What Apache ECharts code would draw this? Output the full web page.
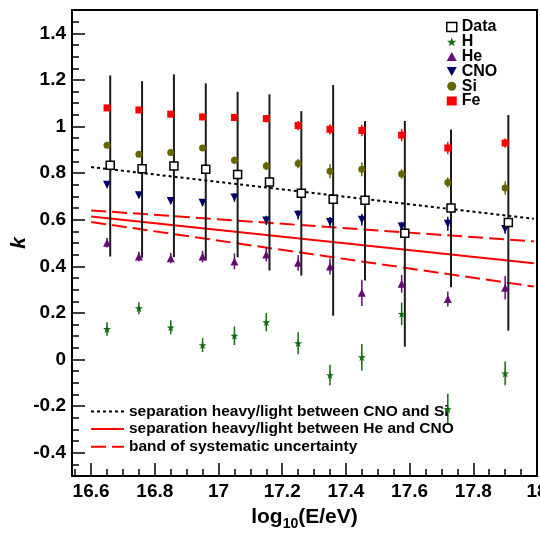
<!DOCTYPE html>
<html>
<head>
<meta charset="utf-8">
<script src="https://cdn.jsdelivr.net/npm/echarts@6/dist/echarts.min.js"></script>
<style>
html,body{margin:0;padding:0;background:#fff;}
#chart{width:540px;height:534px;}
</style>
</head>
<body>
<div id="chart"></div>
<script>
// ---- data ----
const dataX  = [16.66, 16.76, 16.86, 16.96, 17.06, 17.16, 17.26, 17.36, 17.46, 17.585, 17.73, 17.91];
const dataK  = [0.834, 0.819, 0.831, 0.816, 0.794, 0.762, 0.713, 0.688, 0.683, 0.542, 0.650, 0.588];
const dataLo = [0.442, 0.437, 0.439, 0.425, 0.439, 0.382, 0.360, 0.188, 0.339, 0.055, 0.310, 0.124];
const dataHi = [1.219, 1.195, 1.224, 1.185, 1.149, 1.138, 1.066, 1.178, 1.023, 1.024, 0.987, 1.049];

const elemX  = [16.65, 16.75, 16.85, 16.95, 17.05, 17.15, 17.25, 17.35, 17.45, 17.575, 17.72, 17.90];
const feK    = [1.080, 1.071, 1.053, 1.041, 1.039, 1.034, 1.004, 0.988, 0.983, 0.963, 0.908, 0.929];
const feErr  = [0.012, 0.012, 0.013, 0.014, 0.015, 0.016, 0.020, 0.022, 0.025, 0.027, 0.027, 0.020];
const siK    = [0.920, 0.881, 0.888, 0.908, 0.855, 0.831, 0.841, 0.808, 0.816, 0.796, 0.760, 0.736];
const siErr  = [0.012, 0.012, 0.013, 0.013, 0.016, 0.018, 0.020, 0.030, 0.030, 0.020, 0.022, 0.028];
const cnoK   = [0.750, 0.705, 0.680, 0.673, 0.695, 0.597, 0.621, 0.590, 0.600, 0.571, 0.583, 0.560];
const cnoErr = [0.012, 0.012, 0.013, 0.014, 0.018, 0.020, 0.020, 0.022, 0.025, 0.020, 0.030, 0.020];
const heK    = [0.501, 0.442, 0.435, 0.442, 0.421, 0.451, 0.415, 0.399, 0.286, 0.325, 0.260, 0.308];
const heErr  = [0.020, 0.020, 0.022, 0.025, 0.034, 0.030, 0.034, 0.034, 0.056, 0.038, 0.032, 0.050];
const hK     = [0.131, 0.220, 0.138, 0.062, 0.102, 0.160, 0.070, -0.067, 0.010, 0.196, -0.213, -0.060];
const hErr   = [0.029, 0.026, 0.030, 0.030, 0.040, 0.039, 0.047, 0.044, 0.057, 0.048, 0.066, 0.051];

const lineX      = [16.6, 17.99];
const sepCNOSi   = [0.826, 0.604];
const sepHeCNO   = [0.614, 0.413];
const bandUpper  = [0.640, 0.507];
const bandLower  = [0.590, 0.313];

const xMajorTicks = [16.6, 16.8, 17.0, 17.2, 17.4, 17.6, 17.8, 18.0];
const xMinorTicks = [16.55, 16.65, 16.7, 16.75, 16.85, 16.9, 16.95, 17.05, 17.1, 17.15, 17.25, 17.3, 17.35, 17.45, 17.5, 17.55, 17.65, 17.7, 17.75, 17.85, 17.9, 17.95];
const yMajorTicks = [-0.4, -0.2, 0, 0.2, 0.4, 0.6, 0.8, 1.0, 1.2, 1.4];
const yMinorTicks = [-0.45, -0.35, -0.3, -0.25, -0.15, -0.1, -0.05, 0.05, 0.1, 0.15, 0.25, 0.3, 0.35, 0.45, 0.5, 0.55, 0.65, 0.7, 0.75, 0.85, 0.9, 0.95, 1.05, 1.1, 1.15, 1.25, 1.3, 1.35, 1.45];

// ---- styling ----
const FONT = '"Liberation Sans", Arial, Helvetica, sans-serif';
const C = { H: '#0e6b0e', He: '#660a77', CNO: '#000066', Si: '#666600', Fe: '#ff0000' };
const STAR = 'path://M50,0 L61,35 L98,35 L68,57 L79,91 L50,70 L21,91 L32,57 L2,35 L39,35 Z';
const TRI_DOWN = 'path://M0,0 L10,0 L5,9 Z';
const TRI_UP = 'path://M5,0 L10,9 L0,9 Z';

function pts(xs, ys) { return xs.map((x, i) => [x, ys[i]]); }
function errPts(xs, ys, es) { return xs.map((x, i) => [x, ys[i] - es[i], ys[i] + es[i]]); }
function errAbs(xs, lo, hi) { return xs.map((x, i) => [x, lo[i], hi[i]]); }

function errSeries(data, color, width) {
  return {
    type: 'custom', silent: true, data: data,
    encode: { x: 0, y: [1, 2] }, z: 3,
    renderItem: function (params, api) {
      const p1 = api.coord([api.value(0), api.value(1)]);
      const p2 = api.coord([api.value(0), api.value(2)]);
      return {
        type: 'line',
        shape: { x1: p1[0], y1: p1[1], x2: p2[0], y2: p2[1] },
        style: { stroke: color, lineWidth: width }
      };
    }
  };
}

function scatterSeries(name, data, symbol, size, color, extra) {
  return Object.assign({
    name: name, type: 'scatter', data: data, symbol: symbol, symbolSize: size,
    itemStyle: { color: color, opacity: 1 }, z: 5, silent: true
  }, extra || {});
}

function lineSeries(name, ys, color, type) {
  return {
    name: name, type: 'line', data: pts(lineX, ys), symbol: 'none', silent: true, z: 2,
    lineStyle: { color: color, width: 2, type: type },
    itemStyle: { color: color }
  };
}

const LEG1 = 'separation heavy/light between CNO and Si';
const LEG2 = 'separation heavy/light between He and CNO';
const LEG3 = 'band of systematic uncertainty';

const series = [
  lineSeries(LEG1, sepCNOSi, '#000000', [3, 3]),
  lineSeries(LEG2, sepHeCNO, '#ff0000', 'solid'),
  lineSeries(LEG3, bandUpper, '#ff0000', [15, 6]),
  lineSeries('band-lower', bandLower, '#ff0000', [15, 6]),

  errSeries(errAbs(dataX, dataLo, dataHi), '#1a1a1a', 2),
  errSeries(errPts(elemX, hK, hErr), C.H, 1.5),
  errSeries(errPts(elemX, heK, heErr), C.He, 1.5),
  errSeries(errPts(elemX, cnoK, cnoErr), C.CNO, 1.5),
  errSeries(errPts(elemX, siK, siErr), C.Si, 1.5),
  errSeries(errPts(elemX, feK, feErr), C.Fe, 1.5),

  scatterSeries('H', pts(elemX, hK), STAR, 8, C.H),
  scatterSeries('He', pts(elemX, heK), TRI_UP, [8, 8], C.He),
  scatterSeries('CNO', pts(elemX, cnoK), TRI_DOWN, [8, 8], C.CNO),
  scatterSeries('Si', pts(elemX, siK), 'circle', 7, C.Si),
  scatterSeries('Fe', pts(elemX, feK), 'rect', 7, C.Fe),
  scatterSeries('Data', pts(dataX, dataK), 'rect', 8, '#ffffff', {
    itemStyle: { color: '#ffffff', borderColor: '#000', borderWidth: 1.5, opacity: 1 }, z: 6
  })
];

function tickAxis(base, values, len) {
  return Object.assign({
    type: 'value',
    axisLine: { show: false, onZero: false },
    axisTick: { show: true, inside: true, length: len, customValues: values, lineStyle: { color: '#000', width: 1.5 } },
    axisLabel: { show: false },
    splitLine: { show: false }
  }, base);
}

const labelStyle = { color: '#000', fontSize: 19, fontWeight: 'bold', fontFamily: FONT };
const hidden = { color: 'rgba(0,0,0,0)', borderWidth: 0, opacity: 0 };

const option = {
  animation: false,
  backgroundColor: '#ffffff',
  textStyle: { fontFamily: FONT },
  grid: {
    left: 72, right: 3, top: 10, bottom: 58,
    outerBoundsMode: 'none', containLabel: false,
    show: true, borderColor: '#000', borderWidth: 2, backgroundColor: 'transparent'
  },
  xAxis: [{
    type: 'value', min: 16.54, max: 18.0, position: 'bottom',
    axisLine: { show: true, onZero: false, lineStyle: { color: '#000', width: 2 } },
    axisTick: { show: false },
    axisLabel: Object.assign({ show: true, customValues: xMajorTicks, margin: 6,
      formatter: v => String(Math.round(v * 10) / 10) }, labelStyle),
    splitLine: { show: false },
    name: '{b|log}{s|10}{b|(E/eV)}',
    nameLocation: 'middle',
    nameGap: 27,
    nameMoveOverlap: false,
    nameTextStyle: {
      rich: {
        b: { fontSize: 21, fontWeight: 'bold', fontFamily: FONT, color: '#000' },
        s: { fontSize: 14, fontWeight: 'bold', fontFamily: FONT, color: '#000', padding: [14, 0, 0, 0] }
      }
    }
  },
  tickAxis({ min: 16.54, max: 18.0, position: 'bottom' }, xMajorTicks, 13),
  tickAxis({ min: 16.54, max: 18.0, position: 'bottom' }, xMinorTicks, 7)
  ],
  yAxis: [{
    type: 'value', min: -0.5, max: 1.5, position: 'left',
    axisLine: { show: true, onZero: false, lineStyle: { color: '#000', width: 2 } },
    axisTick: { show: false },
    axisLabel: Object.assign({ show: true, customValues: yMajorTicks, margin: 6,
      formatter: v => String(Math.round(v * 10) / 10) }, labelStyle),
    splitLine: { show: false },
    name: 'k',
    nameLocation: 'middle',
    nameGap: 42,
    nameRotate: 90,
    nameMoveOverlap: false,
    nameTextStyle: { fontSize: 21, fontWeight: 'bold', fontStyle: 'italic', fontFamily: FONT, color: '#000' }
  },
  tickAxis({ min: -0.5, max: 1.5, position: 'left' }, yMajorTicks, 13),
  tickAxis({ min: -0.5, max: 1.5, position: 'left' }, yMinorTicks, 7)
  ],
  legend: [{
    orient: 'vertical',
    left: 441, top: 14,
    padding: 5,
    itemWidth: 10, itemHeight: 9, itemGap: -1.2,
    selectedMode: false,
    textStyle: { fontSize: 16, fontWeight: 'bold', fontFamily: FONT, color: '#000' },
    data: [
      { name: 'Data', icon: 'rect', itemStyle: { color: '#fff', borderColor: '#000', borderWidth: 1.5 } },
      { name: 'H', icon: STAR },
      { name: 'He', icon: TRI_UP },
      { name: 'CNO', icon: TRI_DOWN },
      { name: 'Si', icon: 'circle' },
      { name: 'Fe', icon: 'rect' }
    ]
  }, {
    orient: 'vertical',
    left: 85, top: 398.5,
    padding: 5,
    itemWidth: 33, itemHeight: 14, itemGap: 1.6,
    selectedMode: false,
    textStyle: { fontSize: 15.5, fontWeight: 'bold', fontFamily: FONT, color: '#000' },
    data: [
      { name: LEG1, itemStyle: hidden },
      { name: LEG2, itemStyle: hidden },
      { name: LEG3, itemStyle: hidden }
    ]
  }],
  series: series
};

const chart = echarts.init(document.getElementById('chart'), null, { renderer: 'canvas' });
chart.setOption(option);
</script>
</body>
</html>
